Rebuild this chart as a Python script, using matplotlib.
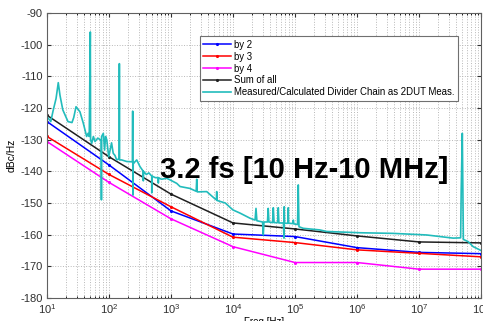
import numpy as np
import matplotlib
matplotlib.use("Agg")
import matplotlib.pyplot as plt
from matplotlib.ticker import LogLocator, NullFormatter

plt.rcParams['font.family'] = ['Liberation Sans', 'DejaVu Sans']
plt.rcParams['axes.unicode_minus'] = False

# calculated divider chains (points at each decade)
f_dec = [1e1, 1e2, 1e3, 1e4, 1e5, 1e6, 1e7, 1e8]
by2 = [-124.3, -138.0, -152.5, -159.8, -160.6, -164.1, -165.6, -166.0]
by3 = [-129.0, -141.0, -151.2, -160.8, -162.5, -164.8, -165.9, -167.0]
by4 = [-130.6, -143.5, -155.0, -163.8, -168.8, -168.8, -170.9, -170.9]
sum_all = [-122.3, -135.4, -147.2, -156.3, -158.2, -160.4, -162.3, -162.6]

# measured trace
meas_f = [10, 11.5, 12.5, 14, 15.2, 16.2, 18, 21.8, 25.3, 27, 29.4, 34, 38.5, 43.6,
          46, 48, 50, 50.5, 52.6, 56, 59.5, 66, 71.6, 75, 75.5, 76, 81, 85, 88, 92,
          99, 105, 110, 117, 125, 133, 146, 147, 148, 160, 193, 239, 241, 242, 244,
          246, 248, 280, 316, 357, 358, 360, 400, 440, 489, 490, 492, 560, 624, 625,
          627, 700, 853, 964, 1237, 1400, 2020, 2550, 2600, 2650, 3770, 5000, 5400,
          5460, 5520, 7500, 10000, 13000, 18800, 22700, 23500, 24300, 30000, 30800,
          31600, 36000, 37000, 38000, 43500, 44700, 46000, 52500, 53800, 55000, 65000,
          66500, 67000, 68000, 77000, 78000, 79000, 92000, 94000, 96000, 110000,
          113000, 116000, 136000, 250000, 325000, 1.12e6, 3.85e6, 1.33e7, 3.57e7,
          4.7e7, 4.8e7, 5.0e7, 5.2e7, 6.2e7, 7.5e7, 1e8]
meas_db = [-122.7, -124.3, -121, -117, -112, -116, -120.6, -124.3, -124.6, -123, -119.6,
           -121.2, -124.8, -129, -128, -129, -96, -130, -131.2, -129, -130.6, -129.5,
           -130, -130, -149, -129, -128, -133.3, -129, -130, -135.4, -133, -131, -134.3,
           -135, -136.4, -136, -106, -136.4, -136.4, -136.9, -137, -121, -137, -147.5,
           -137, -137.5, -136.4, -138.5, -140, -143, -140, -141, -140.5, -141.5, -146.8,
           -141.5, -142, -142, -143.7, -142, -142.5, -142.2, -142.7, -143.8, -144.8,
           -145.4, -146.3, -142.5, -146.5, -146.4, -148.5, -149, -146.4, -149.2, -150,
           -152.2, -153.2, -154.8, -155.4, -151.7, -155.6, -156, -160.1, -156, -156,
           -151.7, -156, -156.2, -151.5, -156.2, -156.2, -151.5, -156.3, -156.3, -161.1,
           -151.2, -156.4, -156.4, -151.5, -156.4, -156.5, -155.4, -156.6, -156.8,
           -144.3, -157.5, -158, -158.5, -159, -159.4, -159.6, -160.1, -161.1, -161,
           -146, -128, -161.5, -162.2, -163.8, -165]

fig = plt.figure(figsize=(4.83, 3.21), dpi=100)
ax = fig.add_axes([0.0973, 0.0717, 0.8985, 0.8878])

ax.semilogx(f_dec, by2, '.-', color='#0000ff', lw=1.1, ms=2.5, label='by 2')
ax.semilogx(f_dec, by3, '.-', color='#ff0000', lw=1.1, ms=2.5, label='by 3')
ax.semilogx(f_dec, by4, '.-', color='#ff00ff', lw=1.1, ms=2.5, label='by 4')
ax.semilogx(f_dec, sum_all, '.-', color='#202020', lw=1.1, ms=2.5, label='Sum of all')
ax.semilogx(meas_f, meas_db, '-', color='#22bcbc', lw=1.2,
            label='Measured/Calculated Divider Chain as 2DUT Meas.')

ax.set_xlim(10, 1e8)
ax.set_ylim(-180, -90)
ax.set_yticks(np.arange(-180, -89, 10))
ax.xaxis.set_major_locator(LogLocator(base=10, numticks=10))
ax.xaxis.set_minor_locator(LogLocator(base=10, subs=np.arange(2, 10), numticks=10))
ax.xaxis.set_minor_formatter(NullFormatter())
ax.grid(True, which='both', axis='x', ls=':', color='#b8b8b8', lw=0.7)
ax.grid(True, which='major', axis='y', ls=':', color='#b8b8b8', lw=0.7)
ax.tick_params(labelsize=8, direction='in', length=3, colors='#303030', pad=3,
               top=True, right=True)
ax.tick_params(which='minor', direction='in', length=1.5, top=True)
for s in ax.spines.values():
    s.set_color('#606060')
    s.set_linewidth(0.8)

ax.set_xlabel('Freq [Hz]', fontsize=7, labelpad=1)
ax.set_ylabel('dBc/Hz', fontsize=7.5, labelpad=3)

leg = ax.legend(loc='upper right', bbox_to_anchor=(0.958, 0.935), fontsize=6.9,
                frameon=True, fancybox=False, edgecolor='#707070', framealpha=1,
                handlelength=2.9, borderpad=0.35, labelspacing=0.2, handletextpad=0.35)
leg.get_frame().set_linewidth(0.8)

ax.text(0.592, 0.449, '3.2 fs [10 Hz-10 MHz]', transform=ax.transAxes,
        fontsize=21, fontweight='bold', ha='center', va='center')

fig.savefig('out.png', dpi=100)
